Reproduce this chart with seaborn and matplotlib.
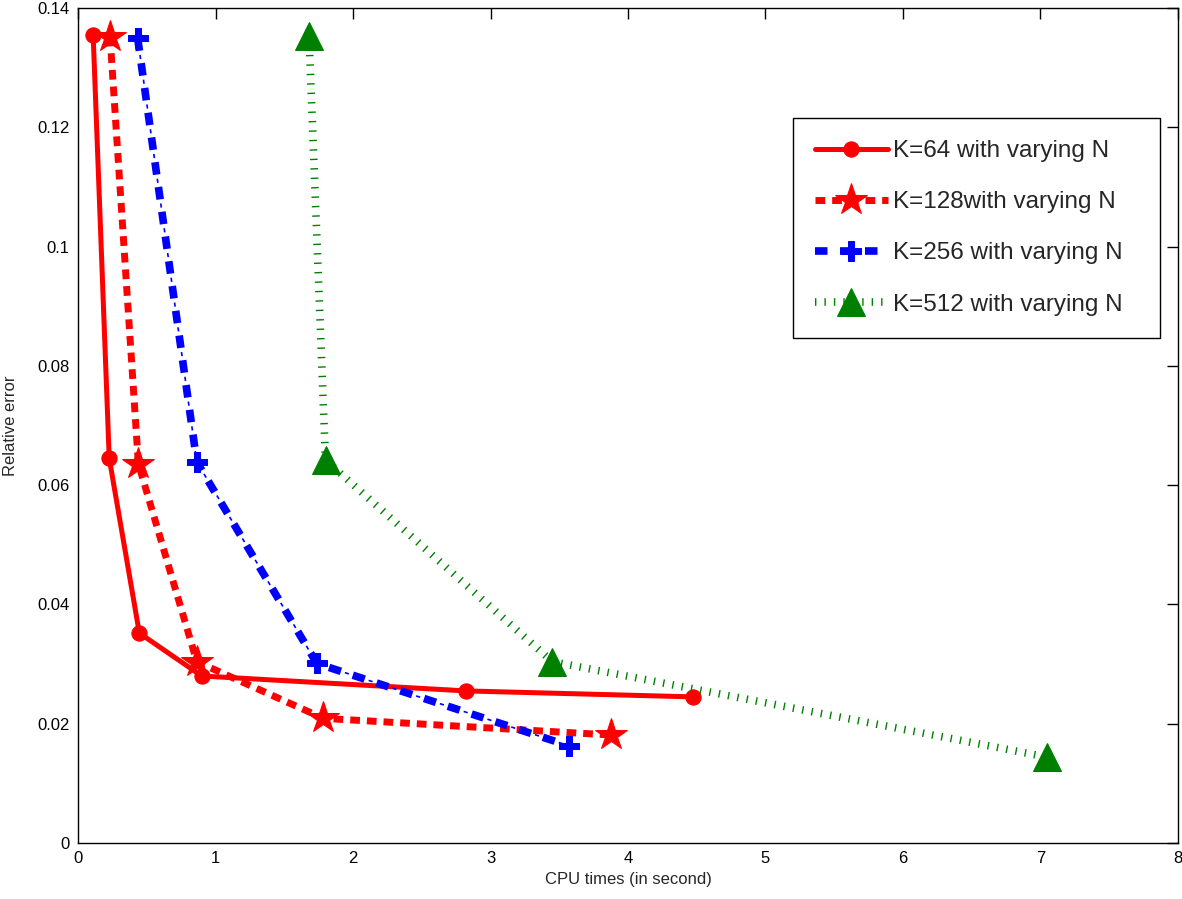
import numpy as np
import pandas as pd
import matplotlib
matplotlib.use("Agg")
import matplotlib.pyplot as plt
import seaborn as sns

# values
k64_time = [0.11, 0.227, 0.446, 0.90, 2.82, 4.47]
k64_err = [0.1355, 0.0645, 0.0352, 0.0280, 0.0255, 0.0245]

k128_time = [0.233, 0.439, 0.864, 1.785, 3.88]
k128_err = [0.1352, 0.0636, 0.0304, 0.0209, 0.0181]

k256_time = [0.434, 0.864, 1.737, 3.57]
k256_err = [0.1349, 0.0639, 0.0301, 0.0163]

k512_time = [1.68, 1.80, 3.45, 7.05]
k512_err = [0.1353, 0.0642, 0.0304, 0.0144]

labels = ["K=64 with varying N", "K=128with varying N",
          "K=256 with varying N", "K=512 with varying N"]

sns.set_theme(style="white")
plt.rcParams["font.family"] = ["Liberation Sans", "DejaVu Sans"]
plt.rcParams["lines.scale_dashes"] = False
plt.rcParams["xtick.direction"] = "in"
plt.rcParams["ytick.direction"] = "in"

green = (0, 0.5, 0)

fig = plt.figure(figsize=(11.82, 8.99), dpi=100)
ax = fig.add_axes([0.066, 0.0623, 0.9306, 0.9288])

df64 = pd.DataFrame({"t": k64_time, "e": k64_err})
df128 = pd.DataFrame({"t": k128_time, "e": k128_err})
df256 = pd.DataFrame({"t": k256_time, "e": k256_err})
df512 = pd.DataFrame({"t": k512_time, "e": k512_err})

sns.lineplot(data=df64, x="t", y="e", sort=False, estimator=None, ax=ax,
             color="red", lw=3.6, marker="o", markersize=11,
             markeredgecolor="red", label=labels[0])
sns.lineplot(data=df128, x="t", y="e", sort=False, estimator=None, ax=ax,
             color="red", lw=5, linestyle=(0, (7, 5)), marker="*",
             markersize=24, markeredgecolor="red", label=labels[1])
# thick dashes of the dash-dot line
sns.lineplot(data=df256, x="t", y="e", sort=False, estimator=None, ax=ax,
             color="blue", lw=5.5, linestyle=(0, (9, 9)), marker="P",
             markersize=14, markeredgecolor="blue", label=labels[2])
# thin dots between them
sns.lineplot(data=df256, x="t", y="e", sort=False, estimator=None, ax=ax,
             color="blue", lw=1.2, linestyle=(6, (3, 15)), label="_nolegend_")
sns.lineplot(data=df512, x="t", y="e", sort=False, estimator=None, ax=ax,
             color=green, lw=5.5, linestyle=(0, (1, 5.8)), marker="^",
             markersize=20, markeredgecolor=green, label=labels[3])

ax.set_xlim(0, 8)
ax.set_ylim(0, 0.14)
ax.set_xticks(np.arange(0, 9, 1))
ax.set_yticks(np.arange(0, 0.141, 0.02))
ax.set_yticklabels(["0", "0.02", "0.04", "0.06", "0.08", "0.1", "0.12", "0.14"])
ax.tick_params(axis="both", labelsize=12, length=8, width=1, colors="black",
               top=True, right=True, pad=6)
for s in ax.spines.values():
    s.set_color("black")
    s.set_linewidth(1)
ax.set_xlabel("CPU times (in second)", fontsize=12, labelpad=4)
ax.set_ylabel("Relative error", fontsize=12, labelpad=14)

# legend box stretched to the width of the matlab-style box
leg = ax.legend(loc="upper left", bbox_to_anchor=(0.65, 0.568, 0.3336, 0.3),
                mode="expand", fontsize=17.5, handlelength=3.0, borderpad=0.9,
                labelspacing=1.2, handletextpad=0.2, fancybox=False,
                framealpha=1, edgecolor="black", borderaxespad=0)
leg.get_frame().set_linewidth(1)

fig.savefig("out.png", dpi=100)
